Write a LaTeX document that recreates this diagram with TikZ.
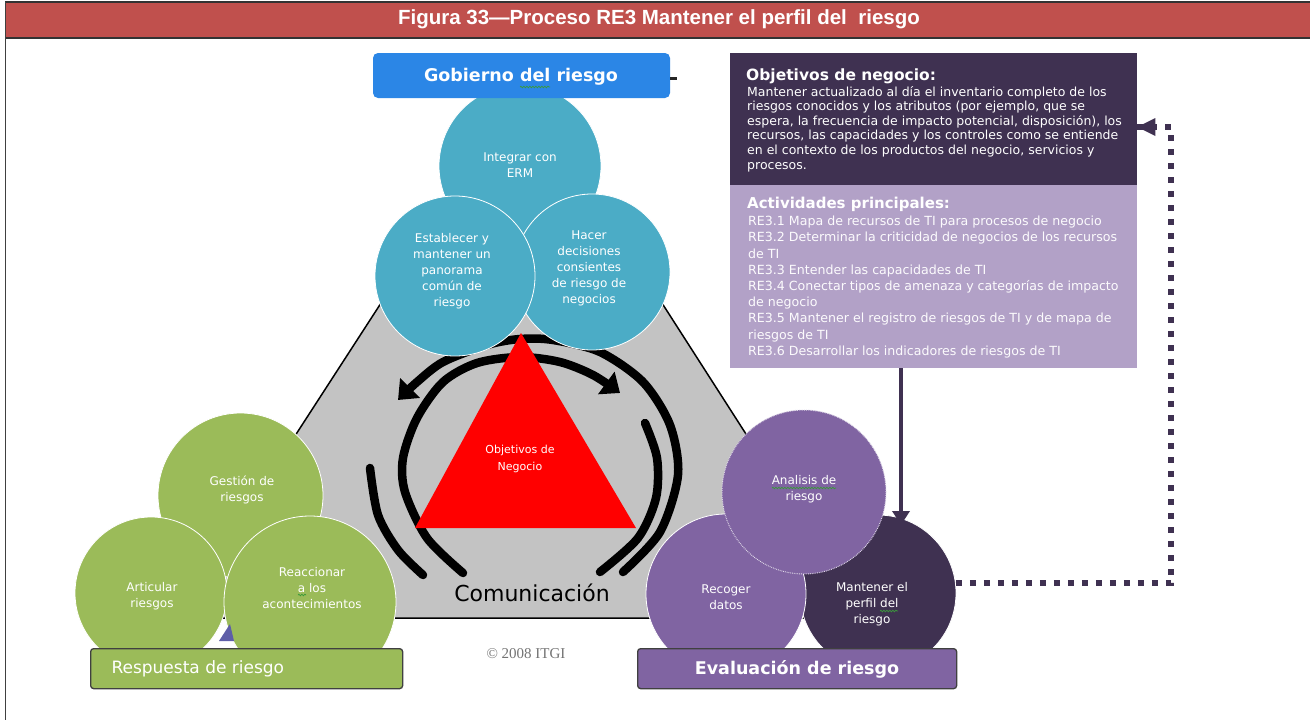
\documentclass[tikz,border=0pt]{standalone}
\usepackage{fontspec}
\setmainfont{DejaVu Sans}
\newfontfamily\libsans{Liberation Sans}
\newfontfamily\libserif{Liberation Serif}
\usetikzlibrary{arrows.meta,shapes.geometric,decorations.pathmorphing}
\definecolor{titlered}{HTML}{C0504D}
\definecolor{cblue}{HTML}{4BACC6}
\definecolor{gobblue}{HTML}{2B86E6}
\definecolor{cgreen}{HTML}{9BBB59}
\definecolor{cpurple}{HTML}{8064A2}
\definecolor{dpurple}{HTML}{3F3151}
\definecolor{lpurple}{HTML}{B2A1C7}
\definecolor{hexgray}{HTML}{C3C3C3}
\definecolor{wedgeblue}{HTML}{5E5EA8}
\definecolor{spellgreen}{HTML}{3A9A3A}
\begin{document}
\begin{tikzpicture}[x=1pt,y=-1pt,
  circ/.style={circle, inner sep=0pt, draw=white, line width=0.8pt},
  ctext/.style={text=white, align=center, inner sep=0pt, font=\fontsize{12}{16}\selectfont},
  ringline/.style={line width=8.5pt, line cap=round, draw=black},
  ringarrow/.style={ringline, -{Triangle[length=17pt,width=27pt]}},
  labbox/.style={rounded corners=3pt, draw=black!75, line width=1.3pt, minimum height=40pt, anchor=north west, inner sep=0pt},
  txtbox/.style={anchor=north west, inner sep=0pt, minimum width=407pt, draw=none},
  boxtext/.style={anchor=north west, inner sep=0pt, align=left},
  dotline/.style={draw=dpurple, line width=6pt, dash pattern=on 6pt off 8pt},
  spell/.style={draw=spellgreen, line width=0.7pt, decorate, decoration={snake, amplitude=0.8pt, segment length=3pt}},
]
\useasboundingbox (0,0) rectangle (1310,720);
\fill[white] (0,0) rectangle (1310,720);

% frame and title
\fill[titlered] (5,2) rectangle (1310,38);
\draw[black!80, line width=1.5pt] (5,2) -- (1310,2);
\draw[black!80, line width=2pt] (5,38) -- (1310,38);
\draw[black!75, line width=1pt] (5,2) -- (5,720);
\node[text=white, font=\libsans\bfseries\fontsize{20.5}{23}\selectfont] (title) at (659,19) {Figura 33—Proceso RE3 Mantener el perfil del\ \ riesgo};

% gray truncated triangle
\path[fill=hexgray, draw=black, line width=1.5pt] (383,300) -- (660,300) -- (864,618) -- (177,618) -- cycle;

% circular arrows
\draw[ringline] plot[smooth] coordinates {(370,468) (378,515) (398,550) (423,575)};
\draw[ringline] plot[smooth] coordinates {(645,423) (657,458) (656,498) (638,538) (600,572)};
\draw[ringarrow] plot[smooth] coordinates {(623,572) (660,532) (678,475) (670,425) (643,382) (600,352) (553,340) (520,339) (487,345) (443,362) (417,382) (398,400)};
\draw[ringarrow] plot[smooth] coordinates {(463,573) (427,538) (405,492) (403,458) (417,418) (443,382) (477,363) (520,357) (560,362) (593,375) (620,393)};

% red triangle
\fill[red] (521,333) -- (636,528) -- (415,528) -- cycle;
\node[text=white, align=center, font=\fontsize{11}{17}\selectfont] (obj) at (520,459) {Objetivos de\\Negocio};

% blue circles (Gobierno del riesgo)
\node[circ, fill=cblue, minimum size=162pt] (integ) at (520,166) {};
\node[circ, fill=cblue, minimum size=156pt] (hacer) at (592,272) {};
\node[circ, fill=cblue, minimum size=160pt] (estab) at (455,276) {};
\node[ctext] (tinteg) at (520,165) {Integrar con\\ERM};
\node[ctext] (thacer) at (589,268) {Hacer\\decisiones\\consientes\\de riesgo de\\negocios};
\node[ctext] (testab) at (452,271) {Establecer y\\mantener un\\panorama\\común de\\riesgo};
\node[fill=gobblue, rounded corners=5pt, minimum width=297pt, minimum height=45pt, inner sep=0pt] (gob) at (521.5,75.5) {};
\node[text=white, font=\bfseries\fontsize{17.5}{20}\selectfont] (tgob) at (521,77) {Gobierno del riesgo};
\draw[spell] (520,87) -- (550,87);
\draw[line width=3.5pt, black!85] (gob.east) ++(0,3) -- ++(7,0);

\node[font=\fontsize{22}{25}\selectfont] (comm) at (532,593) {Comunicación};

% green circles (Respuesta de riesgo)
\node[circ, fill=cgreen, minimum size=165pt] (gest) at (240.5,495.5) {};
\node[circ, fill=cgreen, minimum size=152pt] (artic) at (151,593) {};
\node[circ, fill=cgreen, minimum size=172pt] (reacc) at (310,602) {};
\node[ctext] (tgest) at (242,490) {Gestión de\\riesgos};
\node[ctext] (tartic) at (152,596) {Articular\\riesgos};
\node[ctext] (treacc) at (312,588) {Reaccionar\\a los\\acontecimientos};
\draw[spell] (298,595) -- (306,595);
\fill[wedgeblue] (219,641) -- (230,624) -- (234,641) -- cycle;
\node[labbox, fill=cgreen, minimum width=312pt] (resp) at (90,648) {};
\node[text=white, anchor=west, font=\fontsize{17}{20}\selectfont] (tresp) at (108,669) {Respuesta de riesgo};

% purple circles (Evaluación de riesgo)
\node[circ, fill=dpurple, minimum size=156pt] (mant) at (878,593) {};
\node[circ, fill=cpurple, minimum size=160pt] (recog) at (726,594) {};
\node[circ, fill=cpurple, minimum size=164pt, draw=white!75!cpurple, densely dotted, line width=1pt] (anal) at (804,492) {};
\node[ctext] (tanal) at (804,489) {Analisis de\\riesgo};
\draw[spell] (772,488) -- (836,488);
\node[ctext] (trecog) at (726,597) {Recoger\\datos};
\node[ctext] (tmant) at (872,604) {Mantener el\\perfil del\\riesgo};
\draw[spell] (880,611) -- (898,611);
\node[labbox, fill=cpurple, minimum width=319pt] (eval) at (637,648) {};
\node[text=white, font=\bfseries\fontsize{17.5}{20}\selectfont] (teval) at (797,669) {Evaluación de riesgo};

% text boxes
\node[txtbox, fill=dpurple, minimum height=132pt] (objbox) at (730,53) {};
\node[txtbox, fill=lpurple, minimum height=183pt] (actbox) at (730,185) {};
\node[anchor=base west, inner sep=0pt, text=white, font=\bfseries\fontsize{15.5}{18}\selectfont] (objh) at (746,80) {Objetivos de negocio:};
\node[boxtext, text=white, font=\fontsize{12.5}{14.6}\selectfont] (objt) at (747,86) {Mantener actualizado al día el inventario completo de los\\riesgos conocidos y los atributos (por ejemplo, que se\\espera, la frecuencia de impacto potencial, disposición), los\\recursos, las capacidades y los controles como se entiende\\en el contexto de los productos del negocio, servicios y\\procesos.};
\node[anchor=base west, inner sep=0pt, text=white, font=\bfseries\fontsize{15}{18}\selectfont] (acth) at (747,208.5) {Actividades principales:};
\node[boxtext, text=white!96!lpurple, font=\fontsize{12.6}{16.2}\selectfont] (actt) at (748,216) {RE3.1 Mapa de recursos de TI para procesos de negocio\\RE3.2 Determinar la criticidad de negocios de los recursos\\de TI\\RE3.3 Entender las capacidades de TI\\RE3.4 Conectar tipos de amenaza y categorías de impacto\\de negocio\\RE3.5 Mantener el registro de riesgos de TI y de mapa de\\riesgos de TI\\RE3.6 Desarrollar los indicadores de riesgos de TI};

% connectors
\coordinate (arrtip) at (901,525);
\draw[dpurple, line width=4.5pt, -{Triangle[length=14pt,width=17pt]}] (actbox.south -| arrtip) -- (arrtip);
\coordinate (dtop) at (1171,127);
\draw[dotline] (mant.7) -| (dtop) -- (objbox.east |- dtop);
\fill[dpurple] (objbox.east |- dtop) -- ++(18,-9) -- ++(0,18) -- cycle;

\node[text=black!55, font=\libserif\fontsize{15}{17}\selectfont] (copy) at (526,654) {© 2008 ITGI};
\end{tikzpicture}
\end{document}
